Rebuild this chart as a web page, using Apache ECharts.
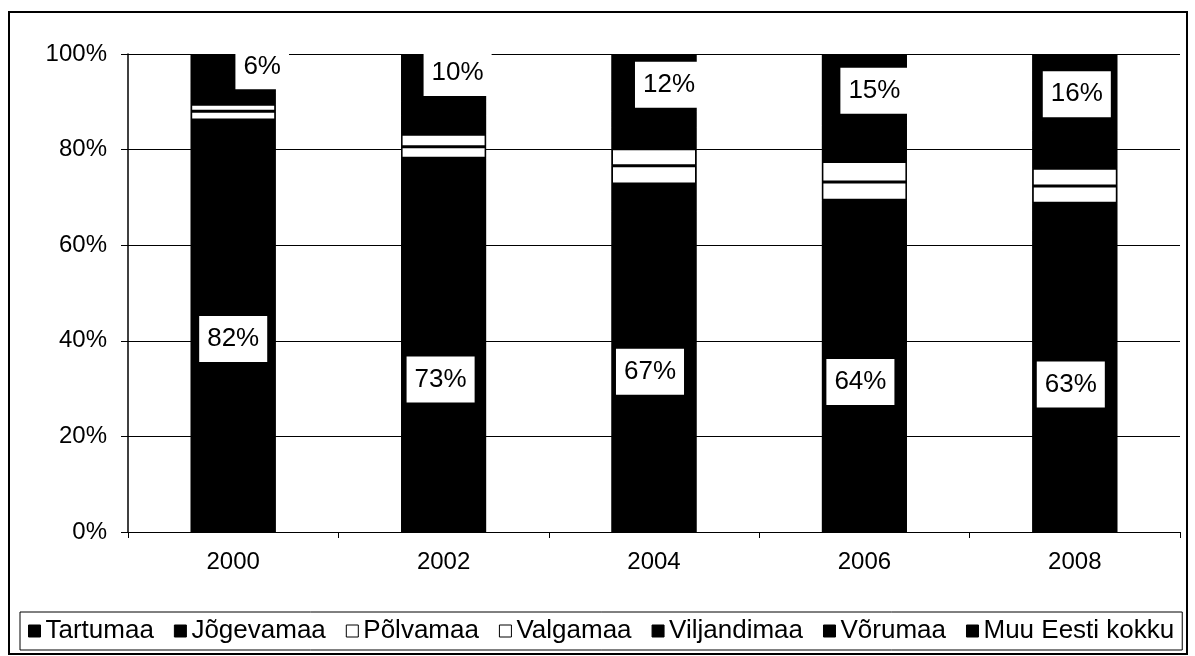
<!DOCTYPE html>
<html>
<head>
<meta charset="utf-8">
<script src="https://cdn.jsdelivr.net/npm/echarts@6/dist/echarts.min.js"></script>
<style>
  html, body { margin: 0; padding: 0; background: #fff; }
  #chart { width: 1195px; height: 656px; }
</style>
</head>
<body>
<div id="chart"></div>
<script>
(function () {
    // aastad
    var years = ['2000', '2002', '2004', '2006', '2008'];

    // osakaalud protsentides, alt üles
    var tartumaa    = [82, 73, 67, 64, 63];
    var jogevamaa   = [4.2, 5.2, 5.8, 5.4, 5.8];
    var polvamaa    = [1.8, 2.4, 3.8, 3.8, 3.6];
    var valgamaa    = [1.5, 2.6, 3.6, 4.3, 3.7];
    var viljandimaa = [2.5, 4.0, 4.5, 4.3, 4.5];
    var vorumaa     = [2.0, 2.8, 3.3, 3.2, 3.4];
    var muuEesti    = [6, 10, 12, 15, 16];
    // kogusumma (100%) - tume taust tulba all, et segmentide vahele ei jääks heledaid jooni
    var kokku       = [100, 100, 100, 100, 100];

    var yTicks = [0, 20, 40, 60, 80, 100];

    // siltide nihked (käsitsi paigutatud nagu originaalis)
    var tartuShift = [[0, 3], [-3, 22], [-4, 0], [-4, 3], [-4, 3]];
    var muuShift = [[29, -2], [14, -5], [15, 2], [10, 1], [2, 2]];

    var font = 'Liberation Sans, Arial, sans-serif';

    var labelStyle = {
        show: true,
        position: 'inside',
        color: '#000',
        backgroundColor: '#fff',
        fontFamily: font,
        fontSize: 26,
        padding: [10, 8],
        formatter: function (p) { return Math.round(p.value) + '%'; }
    };

    function withLabels(values, shifts) {
        return values.map(function (v, i) {
            return { value: v, label: { offset: shifts[i] } };
        });
    }

    function bar(name, data, color, white, label) {
        return {
            name: name,
            type: 'bar',
            stack: 'kokku',
            barWidth: 85,
            barGap: '-100%',
            data: data,
            itemStyle: {
                color: color,
                borderColor: '#000',
                borderWidth: white ? 1.5 : 0
            },
            label: label || { show: false },
            emphasis: { disabled: true }
        };
    }

    var option = {
        backgroundColor: '#fff',
        animation: false,
        textStyle: { fontFamily: font },
        grid: { left: 128, right: 15, top: 54, bottom: 124 },
        graphic: [{
            type: 'rect',
            shape: { x: 9, y: 12, width: 1178, height: 642 },
            style: { fill: 'none', stroke: '#000', lineWidth: 2 },
            silent: true
        }],
        legend: {
            left: 20,
            top: 612,
            padding: [6, 8],
            borderColor: '#000',
            borderWidth: 1,
            itemWidth: 12,
            itemHeight: 12,
            itemGap: 20,
            icon: 'rect',
            itemStyle: { borderColor: '#000', borderWidth: 1 },
            textStyle: { color: '#000', fontSize: 26, fontFamily: font },
            data: ['Tartumaa', 'Jõgevamaa', 'Põlvamaa', 'Valgamaa', 'Viljandimaa', 'Võrumaa', 'Muu Eesti kokku']
        },
        xAxis: {
            type: 'category',
            data: years,
            axisLine: { lineStyle: { color: '#000', width: 1 } },
            axisTick: { show: true, length: 6, lineStyle: { color: '#000' } },
            axisLabel: { color: '#000', fontSize: 24, fontFamily: font, margin: 18 }
        },
        yAxis: {
            type: 'value',
            min: yTicks[0],
            max: yTicks[yTicks.length - 1],
            interval: 20,
            axisLine: { show: true, lineStyle: { color: '#000', width: 1.5 } },
            axisTick: { show: true, length: 7, lineStyle: { color: '#000' } },
            axisLabel: { color: '#000', fontSize: 24, fontFamily: font, margin: 21, formatter: '{value}%' },
            splitLine: { lineStyle: { color: '#000', width: 1 } }
        },
        series: [
            {
                name: 'kokku',
                type: 'bar',
                barWidth: 85,
                barGap: '-100%',
                data: kokku,
                itemStyle: { color: '#000' },
                silent: true,
                emphasis: { disabled: true }
            },
            bar('Tartumaa', withLabels(tartumaa, tartuShift), '#000', false, labelStyle),
            bar('Jõgevamaa', jogevamaa, '#000', false),
            bar('Põlvamaa', polvamaa, '#fff', true),
            bar('Valgamaa', valgamaa, '#fff', true),
            bar('Viljandimaa', viljandimaa, '#000', false),
            bar('Võrumaa', vorumaa, '#000', false),
            bar('Muu Eesti kokku', withLabels(muuEesti, muuShift), '#000', false, labelStyle)
        ]
    };

    var myChart = echarts.init(document.getElementById('chart'));
    myChart.setOption(option);
})();
</script>
</body>
</html>
